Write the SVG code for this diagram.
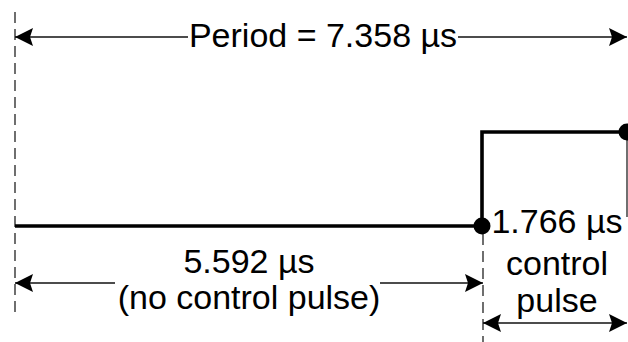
<svg xmlns="http://www.w3.org/2000/svg" width="628" height="342" viewBox="0 0 628 342">
<style>
.t{font-family:"Liberation Sans",Arial,sans-serif;font-size:34px;fill:#000;text-anchor:middle}
.dim{stroke:#111;stroke-width:1.4;fill:none}
.dash{stroke:#222;stroke-width:1.3;stroke-dasharray:11 6;fill:none}
.wave{stroke:#000;stroke-width:3.6;fill:none}
</style>
<defs>
<marker id="ah" viewBox="0 0 18 18" refX="18" refY="9" markerWidth="18" markerHeight="18" markerUnits="userSpaceOnUse" orient="auto-start-reverse">
<path d="M0,0 L18,9 L0,18 L3,9 Z" fill="#000"/>
</marker>
</defs>
<g id="guides">
<line class="dash" x1="15" y1="12" x2="15" y2="318"/>
<line class="dash" x1="483" y1="234" x2="483" y2="342"/>
<line x1="627" y1="132" x2="627" y2="217" stroke="#222" stroke-width="1.3"/>
</g>
<g id="waveform">
<polyline class="wave" points="15,226 482,226 482,132 628,132"/>
<circle cx="482" cy="226" r="8.5" fill="#000"/>
<circle cx="627" cy="132" r="8.5" fill="#000"/>
</g>
<g id="connectors">
<line class="dim" x1="188" y1="37" x2="15" y2="37" marker-end="url(#ah)"/>
<line class="dim" x1="458" y1="37" x2="627" y2="37" marker-end="url(#ah)"/>
<line class="dim" x1="115" y1="283" x2="15" y2="283" marker-end="url(#ah)"/>
<line class="dim" x1="380" y1="283" x2="483" y2="283" marker-end="url(#ah)"/>
<line class="dim" x1="483" y1="323" x2="627" y2="323" marker-start="url(#ah)" marker-end="url(#ah)"/>
</g>
<g id="period-label">
<text class="t" x="323" y="47">Period = 7.358 µs</text>
</g>
<g id="off-label">
<text class="t" x="249" y="273">5.592 µs</text>
<text class="t" x="249" y="309">(no control pulse)</text>
</g>
<g id="on-label">
<text class="t" x="557" y="233">1.766 µs</text>
<text class="t" x="557" y="275">control</text>
<text class="t" x="557" y="312">pulse</text>
</g>
</svg>
